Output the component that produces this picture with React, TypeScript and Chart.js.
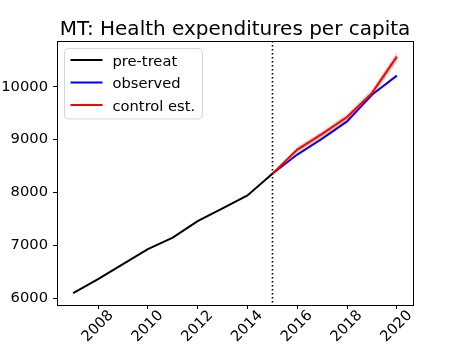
import React, { useEffect, useRef } from "react";
import { Chart, registerables } from "chart.js";

Chart.register(...registerables);

const TITLE = "MT: Health expenditures per capita";
const FONT = "'DejaVu Sans', sans-serif";

const preYears = [2007, 2008, 2009, 2010, 2011, 2012, 2013, 2014, 2015];
const preValues = [6094, 6358, 6642, 6925, 7145, 7458, 7698, 7943, 8353];

const postYears = [2015, 2016, 2017, 2018, 2019, 2020];
const observedValues = [8353, 8717, 9019, 9345, 9849, 10213];
const controlValues = [8353, 8811, 9108, 9428, 9881, 10572];
const controlLower = [8353, 8760, 9050, 9370, 9810, 10485];
const controlUpper = [8353, 8865, 9165, 9490, 9955, 10660];

const xTicks = [2008, 2010, 2012, 2014, 2016, 2018, 2020];
const yTicks = [6000, 7000, 8000, 9000, 10000];

const X_MIN = 2006.35;
const X_MAX = 2020.65;
const Y_MIN = 5868;
const Y_MAX = 10868;
const TREAT_YEAR = 2015;

const pts = (xs: number[], ys: number[]) => xs.map((x, i) => ({ x, y: ys[i] }));

const overlayPlugin = {
  id: "overlay",
  afterDatasetsDraw(chart: any) {
    const { ctx, chartArea: a, scales } = chart;
    ctx.save();
    const x = Math.round(scales.x.getPixelForValue(TREAT_YEAR)) + 0.5;
    ctx.strokeStyle = "#000";
    ctx.lineWidth = 1.6;
    ctx.setLineDash([1.6, 2.4]);
    ctx.beginPath();
    ctx.moveTo(x, a.top);
    ctx.lineTo(x, a.bottom);
    ctx.stroke();
    ctx.setLineDash([]);
    ctx.lineWidth = 1;
    const l = Math.round(a.left) + 0.5;
    const t = Math.round(a.top) + 0.5;
    const r = Math.round(a.right) + 0.5;
    const b = Math.round(a.bottom) + 0.5;
    ctx.strokeRect(l, t, r - l, b - t);
    ctx.restore();
  },
  afterDraw(chart: any) {
    const { ctx, chartArea: a } = chart;
    ctx.save();
    ctx.fillStyle = "#000";
    ctx.font = `20px ${FONT}`;
    ctx.textAlign = "center";
    ctx.textBaseline = "alphabetic";
    ctx.fillText(TITLE, (a.left + a.right) / 2, 35);
    const items = chart.data.datasets.filter((d: any) => d.label);
    const bx = a.left + 7.5;
    const by = a.top + 7.5;
    const bw = 138;
    const bh = 70.5;
    const rad = 4;
    ctx.beginPath();
    ctx.moveTo(bx + rad, by);
    ctx.lineTo(bx + bw - rad, by);
    ctx.arcTo(bx + bw, by, bx + bw, by + rad, rad);
    ctx.lineTo(bx + bw, by + bh - rad);
    ctx.arcTo(bx + bw, by + bh, bx + bw - rad, by + bh, rad);
    ctx.lineTo(bx + rad, by + bh);
    ctx.arcTo(bx, by + bh, bx, by + bh - rad, rad);
    ctx.lineTo(bx, by + rad);
    ctx.arcTo(bx, by, bx + rad, by, rad);
    ctx.closePath();
    ctx.fillStyle = "rgba(255,255,255,0.8)";
    ctx.fill();
    ctx.strokeStyle = "rgba(204,204,204,0.8)";
    ctx.lineWidth = 1;
    ctx.stroke();
    ctx.font = `14.7px ${FONT}`;
    ctx.textAlign = "left";
    items.forEach((d: any, i: number) => {
      const y = by + 11.5 + i * 22.5;
      ctx.strokeStyle = d.borderColor;
      ctx.lineWidth = 2;
      ctx.beginPath();
      ctx.moveTo(bx + 6, y);
      ctx.lineTo(bx + 38, y);
      ctx.stroke();
      ctx.fillStyle = "#000";
      ctx.fillText(d.label, bx + 48, y + 5.5);
    });
    ctx.restore();
  },
};

export default function App() {
  const ref = useRef<HTMLCanvasElement>(null);
  useEffect(() => {
    if (!ref.current) return;
    const chart = new Chart(ref.current, {
      type: "line",
      data: {
        datasets: [
          {
            label: "pre-treat",
            data: pts(preYears, preValues),
            borderColor: "#000000",
            borderWidth: 2,
            pointRadius: 0,
            order: 3,
          },
          {
            label: "observed",
            data: pts(postYears, observedValues),
            borderColor: "#0000ff",
            borderWidth: 2,
            pointRadius: 0,
            order: 2,
          },
          {
            label: "control est.",
            data: pts(postYears, controlValues),
            borderColor: "#ff0000",
            borderWidth: 2,
            pointRadius: 0,
            order: 0,
          },
          {
            data: pts(postYears, controlUpper),
            borderWidth: 0,
            borderColor: "rgba(0,0,0,0)",
            pointRadius: 0,
            fill: false,
            order: 4,
          },
          {
            data: pts(postYears, controlLower),
            borderWidth: 0,
            borderColor: "rgba(0,0,0,0)",
            backgroundColor: "rgba(255,0,0,0.22)",
            fill: "-1",
            pointRadius: 0,
            order: 4,
          },
        ] as any,
      },
      options: {
        animation: false,
        responsive: false,
        layout: { padding: { left: 0, right: 46, top: 41, bottom: 0 } },
        plugins: {
          legend: { display: false },
          title: { display: false },
          tooltip: { enabled: false },
          filler: { propagate: false },
        },
        scales: {
          x: {
            type: "linear",
            min: X_MIN,
            max: X_MAX,
            afterBuildTicks: (s: any) => {
              s.ticks = xTicks.map((v) => ({ value: v }));
            },
            afterFit: (s: any) => {
              s.height = 39;
            },
            grid: {
              display: true,
              drawOnChartArea: false,
              drawTicks: true,
              tickLength: 4,
              tickColor: "#000",
              tickWidth: 1,
            },
            border: { display: false },
            ticks: {
              autoSkip: false,
              minRotation: 45,
              maxRotation: 45,
              labelOffset: 13,
              padding: -2,
              color: "#000",
              font: { family: FONT, size: 14.7 },
              callback: (v: any) => String(v),
            },
          },
          y: {
            type: "linear",
            min: Y_MIN,
            max: Y_MAX,
            afterBuildTicks: (s: any) => {
              s.ticks = yTicks.map((v) => ({ value: v }));
            },
            afterFit: (s: any) => {
              s.width = 57;
            },
            grid: {
              display: true,
              drawOnChartArea: false,
              drawTicks: true,
              tickLength: 4,
              tickColor: "#000",
              tickWidth: 1,
            },
            border: { display: false },
            ticks: {
              padding: 5,
              color: "#000",
              font: { family: FONT, size: 14.7 },
              callback: (v: any) => String(v),
            },
          },
        },
      },
      plugins: [overlayPlugin],
    });
    return () => chart.destroy();
  }, []);
  return (
    <canvas
      ref={ref}
      width={459}
      height={344}
      style={{ position: "absolute", left: 0, top: 0, width: 459, height: 344 }}
    />
  );
}
